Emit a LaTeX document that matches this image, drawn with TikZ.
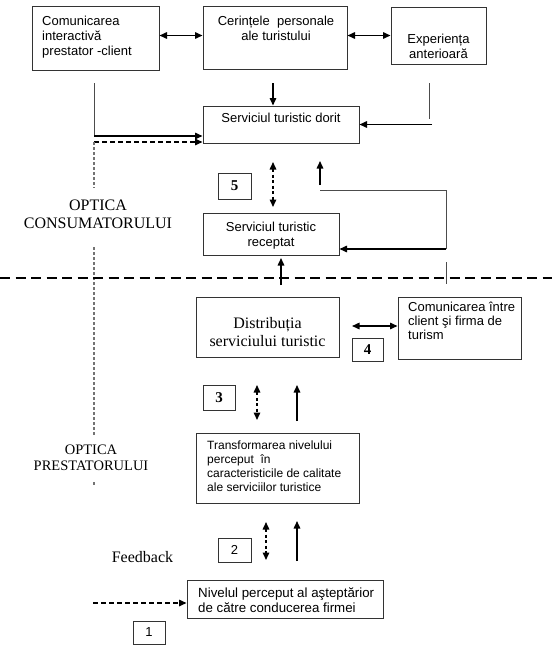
\documentclass[tikz,border=0pt]{standalone}
\usepackage{fontspec}
\setmainfont{Liberation Serif}
\setsansfont{Liberation Sans}
\usetikzlibrary{arrows.meta}

\tikzset{
  box/.style={draw=black!80, line width=1pt, inner sep=0pt},
  numbox/.style={draw=black!80, line width=1pt, inner sep=0pt, minimum width=32pt, minimum height=25pt},
  txt/.style={inner sep=0pt, font=\sffamily\fontsize{13}{15}\selectfont},
  roman/.style={inner sep=0pt, font=\fontsize{16}{18}\selectfont},
  arr/.style={line width=1.5pt, -{Triangle[length=7.5pt,width=6.5pt]}},
  dbl/.style={line width=1.5pt, {Triangle[length=7.5pt,width=6.5pt]}-{Triangle[length=7.5pt,width=6.5pt]}},
  dasharr/.style={arr, dash pattern=on 5pt off 3pt},
  dashdbl/.style={dbl, dash pattern=on 3pt off 2.5pt},
  thinline/.style={draw=black!70, line width=1pt},
  dotline/.style={draw=black!55, line width=1.1pt, dash pattern=on 2.5pt off 2.5pt}
}

\begin{document}
\begin{tikzpicture}[x=1pt, y=-1pt]
\useasboundingbox (0,0) rectangle (552,646);

% optica consumatorului
\node[box, minimum width=127pt, minimum height=64pt] (comm) at (95.5,38) {};
\node[txt, anchor=north west, align=left] (commtxt) at (42,15.7) {Comunicarea\\interactivă\\prestator -client};
\node[box, minimum width=144pt, minimum height=63pt] (cerin) at (275,37.5) {};
\node[txt, anchor=north, align=center] (cerintxt) at (276,15.6) {Cerințele\ \ personale\\ale turistului};
\node[box, minimum width=95pt, minimum height=57pt] (exper) at (438.5,35.5) {};
\node[txt, anchor=north, align=center] (expertxt) at (438.5,33.7) {Experiența\\anterioară};

\node[box, minimum width=156pt, minimum height=37pt] (dorit) at (281,124.5) {};
\node[txt, anchor=base] (dorittxt) at (281,122) {Serviciul turistic dorit};
\node[box, minimum width=136pt, minimum height=42pt] (recep) at (271,234) {};
\node[txt, anchor=north, align=center] (receptxt) at (271,221.5) {Serviciul turistic\\receptat};
\node[numbox, minimum width=33pt, minimum height=26pt, font=\bfseries\fontsize{15}{15}\selectfont] (n5) at (234.5,186) {5};

\node[roman, align=center, anchor=north] (optcons) at (98,199.4) {OPTICA\\CONSUMATORULUI};

\draw[dbl] (comm.east |- exper.west) -- (cerin.west |- exper.west);
\draw[dbl] (cerin.east |- exper.west) -- (exper.west);
\coordinate (cerbot) at (273,83);
\draw[arr] (cerbot) -- (cerbot |- dorit.north);

\coordinate (ltop) at (94,83);
\coordinate (lmid) at (94,136);
\coordinate (ldash) at (94,142);
\draw[thinline] (ltop) -- (lmid);
\draw[arr] (lmid) -- (lmid -| dorit.west);
\draw[dasharr] (ldash) -- (ldash -| dorit.west);
\draw[dotline] (ldash) -- (94,188);
\draw[dotline] (94,247) -- (94,435);
\draw[dotline] (94,482) -- (94,486);

\coordinate (rtop) at (429,83);
\coordinate (rarr) at (432,124.5);
\draw[thinline] (rtop) -- (429,119);
\draw[arr] (rarr) -- (dorit.east);

\coordinate (d5t) at (273,162);
\coordinate (d5b) at (273,207);
\draw[dashdbl] (d5t) -- (d5b);
\coordinate (fbA) at (320,190);
\coordinate (fbB) at (446,190);
\coordinate (fbC) at (446,249);
\draw[arr] (320,185) -- (320,161);
\draw[thinline] (fbA) -- (fbB) -- (fbC);
\draw[arr] (fbC) -- (fbC -| recep.east);
\draw[thinline] (446,262) -- (446,284);
\draw[arr] (281,285) -- (281,258);

% linia de separare
\coordinate (sepL) at (0,278);
\coordinate (sepR) at (552,278);
\draw[line width=2pt, dash pattern=on 10pt off 5.5pt] (sepL) -- (sepR);

% optica prestatorului
\node[box, minimum width=143pt, minimum height=60pt] (distr) at (267.5,327) {};
\node[roman, anchor=north, align=center] (distrtxt) at (267.5,317) {Distribuția\\serviciului turistic};
\node[box, minimum width=123pt, minimum height=62pt] (comint) at (459.5,328) {};
\node[txt, font=\sffamily\fontsize{13}{14}\selectfont, anchor=north west, align=left] (cominttxt) at (408,302.3) {Comunicarea între\\client şi firma de\\turism};
\node[numbox, minimum width=31pt, minimum height=23pt, font=\bfseries\fontsize{15}{15}\selectfont] (n4) at (367.5,349.5) {4};
\coordinate (da) at (352,326);
\draw[dbl] (da) -- (da -| comint.west);

\node[numbox, font=\bfseries\fontsize{15}{15}\selectfont] (n3) at (219,398) {3};
\draw[dashdbl] (257,385) -- (257,420);
\draw[arr] (297,421) -- (297,385);

\node[box, minimum width=163pt, minimum height=70pt] (transf) at (277.5,468) {};
\node[txt, font=\sffamily\fontsize{12}{14}\selectfont, anchor=north west, align=left] (transftxt) at (207,440.4) {Transformarea nivelului\\perceput\ \ în\\caracteristicile de calitate\\ale serviciilor turistice};
\node[roman, font=\fontsize{14.5}{16}\selectfont, align=center, anchor=north] (optprest) at (91,444.4) {OPTICA\\PRESTATORULUI};

\node[numbox, minimum width=33pt, minimum height=24pt, font=\sffamily\fontsize{13}{13}\selectfont] (n2) at (234.5,550) {2};
\draw[dashdbl] (266,522) -- (266,560);
\draw[arr] (297,561) -- (297,521);
\node[roman, anchor=base] (feedb) at (142.5,562) {Feedback};

\node[box, minimum width=196pt, minimum height=38pt] (nivel) at (285,599) {};
\node[txt, font=\sffamily\fontsize{13.3}{14.5}\selectfont, anchor=north west, align=left] (niveltxt) at (198,587.5) {Nivelul perceput al aşteptărior\\de către conducerea firmei};
\coordinate (fbin) at (93,603);
\draw[dasharr] (fbin) -- (fbin -| nivel.west);
\node[numbox, minimum width=32pt, minimum height=23pt, font=\sffamily\fontsize{13}{13}\selectfont] (n1) at (149,632.5) {1};
\end{tikzpicture}
\end{document}
